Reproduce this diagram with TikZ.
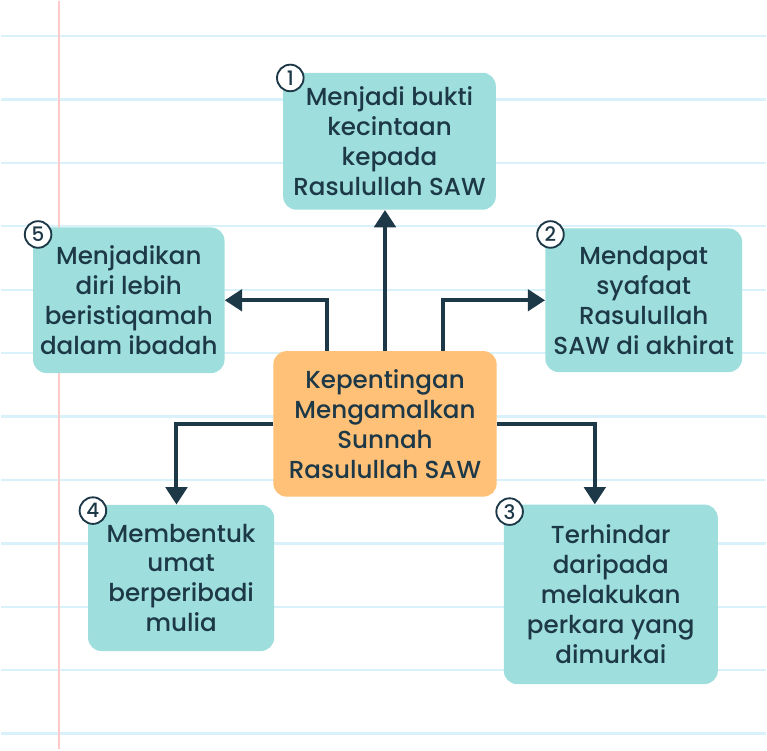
\documentclass[tikz,border=0pt]{standalone}
\usepackage{fontspec}
\setmainfont{Poppins}[UprightFont=* Medium]
\usetikzlibrary{arrows.meta}
\definecolor{teks}{HTML}{1D3847}
\definecolor{hijau}{HTML}{9EDFDD}
\definecolor{oren}{HTML}{FEC177}
\definecolor{garisbiru}{HTML}{D8F1FA}
\definecolor{garismerah}{HTML}{FFC9C9}
\tikzset{
  kotak/.style={fill=hijau, rounded corners=10pt, text=teks, align=center, inner sep=0pt,
    font=\fontsize{18.5}{22.5}\selectfont},
  nombor/.style={circle, draw=teks, line width=1.4pt, fill=white, inner sep=0pt,
    minimum size=20pt, text=teks, font=\fontsize{15}{15}\selectfont},
  anak/.style={draw=teks, line width=3pt, -{Triangle[length=13pt,width=16pt]}}
}
\begin{document}
\begin{tikzpicture}[x=0.75pt,y=-0.75pt]
            % kertas bergaris
            \fill[white] (0,0) rectangle (767,750);
            \foreach \k in {0,...,11}
                \draw[garisbiru, line width=1.8pt] (0,35+63.6*\k) -- (767,35+63.6*\k);
            \draw[garismerah, line width=1.8pt] (58,0) -- (58,750);
            % kotak
            \node[kotak, fill=oren, minimum width=168pt, minimum height=109.5pt] (pusat) at (385,424)
                {Kepentingan\\Mengamalkan\\Sunnah\\Rasulullah SAW};
            \node[kotak, minimum width=160pt, minimum height=103pt] (b1) at (389.5,140.5)
                {Menjadi bukti\\kecintaan\\kepada\\Rasulullah SAW};
            \node[kotak, minimum width=148pt, minimum height=108pt] (b2) at (644.5,300)
                {Mendapat\\syafaat\\Rasulullah\\SAW di akhirat};
            \node[kotak, minimum width=161pt, minimum height=135pt] (b3) at (611.5,595)
                {Terhindar\\daripada\\melakukan\\perkara yang\\dimurkai};
            \node[kotak, minimum width=140pt, minimum height=110pt] (b4) at (180.5,578.5)
                {Membentuk\\umat\\berperibadi\\mulia};
            \node[kotak, minimum width=144pt, minimum height=109.5pt] (b5) at (128,300)
                {Menjadikan\\diri lebih\\beristiqamah\\dalam ibadah};
            % nombor
            \node[nombor] (n1) at (290,77) {1};
            \node[nombor] (n2) at (551,234) {2};
            \node[nombor] (n3) at (510,512) {3};
            \node[nombor] (n4) at (92,511) {4};
            \node[nombor] (n5) at (37,234) {5};
            % anak panah
            \draw[anak] (pusat.north) -- (pusat.north |- b1.south);
            \draw[anak] ([xshift=44pt]pusat.north) |- (b2.west);
            \draw[anak] ([xshift=-43.5pt]pusat.north) |- (b5.east);
            \draw[anak] (pusat.east) -| ([xshift=-12pt]b3.north);
            \draw[anak] (pusat.west) -| ([xshift=-3.5pt]b4.north);
        \end{tikzpicture}
\end{document}
